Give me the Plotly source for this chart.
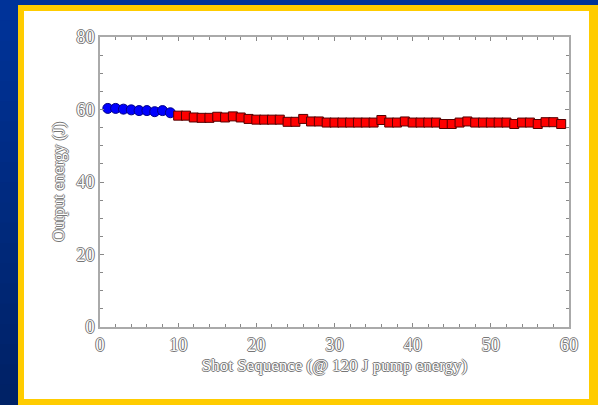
import plotly.graph_objects as go

blue_x = [1, 2, 3, 4, 5, 6, 7, 8, 9]
blue_y = [60.3, 60.3, 60.1, 59.9, 59.7, 59.7, 59.4, 59.7, 59.1]

red_x = list(range(10, 60))
red_y = [58.3, 58.3, 57.8, 57.7, 57.7, 58.0, 57.8, 58.1, 57.8, 57.4,
         57.2, 57.2, 57.2, 57.2, 56.6, 56.6, 57.4, 56.7, 56.7, 56.4,
         56.4, 56.4, 56.4, 56.4, 56.4, 56.4, 57.1, 56.4, 56.4, 56.7,
         56.4, 56.4, 56.4, 56.4, 56.0, 56.0, 56.4, 56.7, 56.4, 56.4,
         56.4, 56.4, 56.4, 56.0, 56.4, 56.4, 56.0, 56.5, 56.5, 56.0]

x_ticks = [0, 10, 20, 30, 40, 50, 60]
y_ticks = [0, 20, 40, 60, 80]
x_title = "Shot Sequence (@ 120 J pump energy)"
y_title = "Output energy (J)"

W, H = 598, 405
L, R, T, B = 100, 29, 37, 78
pw, ph = W - L - R, H - T - B

def px(x):
    return (x - L) / pw

def py(y):
    return (H - B - y) / ph

outline = "-1px 0 #777, 1px 0 #777, 0 -1px #777, 0 1px #777"
tfont = dict(family="Liberation Serif, DejaVu Serif, serif", size=18, color="white", shadow=outline)
afont = dict(family="Liberation Serif, DejaVu Serif, serif", size=17, color="white", shadow=outline)

fig = go.Figure()
fig.add_trace(go.Scatter(x=blue_x, y=blue_y, mode="markers",
                         marker=dict(symbol="circle", size=10, color="#0000ff",
                                     line=dict(color="#000088", width=1))))
fig.add_trace(go.Scatter(x=red_x, y=red_y, mode="markers",
                         marker=dict(symbol="square", size=9, color="#ff0000",
                                     line=dict(color="#550000", width=1))))

shapes = []
# blue gradient background
n = 20
for i in range(n):
    t = i / (n - 1)
    g = int(0x33 + (0x22 - 0x33) * t)
    b = int(0x99 + (0x66 - 0x99) * t)
    y0 = H * i / n
    y1 = H * (i + 1) / n + 1
    shapes.append(dict(type="rect", xref="paper", yref="paper", layer="below",
                       x0=px(-2), x1=px(W + 2), y0=py(y1), y1=py(y0),
                       fillcolor=f"rgb(0,{g},{b})", line=dict(width=0)))
shapes.append(dict(type="rect", xref="paper", yref="paper", layer="below",
                   x0=px(18), x1=px(W + 5), y0=py(H + 5), y1=py(5),
                   fillcolor="#ffcc00", line=dict(width=0)))
shapes.append(dict(type="rect", xref="paper", yref="paper", layer="below",
                   x0=px(24), x1=px(589), y0=py(399), y1=py(11),
                   fillcolor="white", line=dict(width=0)))

fig.update_layout(
    width=W, height=H,
    margin=dict(l=L, r=R, t=T, b=B),
    paper_bgcolor="#003399",
    plot_bgcolor="white",
    showlegend=False,
    shapes=shapes,
    xaxis=dict(range=[0, 60], tickvals=x_ticks, showgrid=False, zeroline=False,
               showline=True, linecolor="#aaaaaa", linewidth=2, mirror="ticks",
               ticks="inside", ticklen=4, tickcolor="#888888",
               minor=dict(dtick=2, ticks="inside", ticklen=3, tickcolor="#888888"),
               tickfont=tfont,
               title=dict(text=x_title, font=afont, standoff=6)),
    yaxis=dict(range=[0, 80], tickvals=y_ticks, showgrid=False, zeroline=False,
               showline=True, linecolor="#aaaaaa", linewidth=2, mirror="ticks",
               ticks="inside", ticklen=4, tickcolor="#888888",
               minor=dict(dtick=5, ticks="inside", ticklen=3, tickcolor="#888888"),
               tickfont=tfont,
               title=dict(text=y_title, font=afont, standoff=7)),
)

fig.write_html("out.html", config={"displayModeBar": False},
               post_script="document.body.style.margin='0';document.body.style.overflow='hidden';")
